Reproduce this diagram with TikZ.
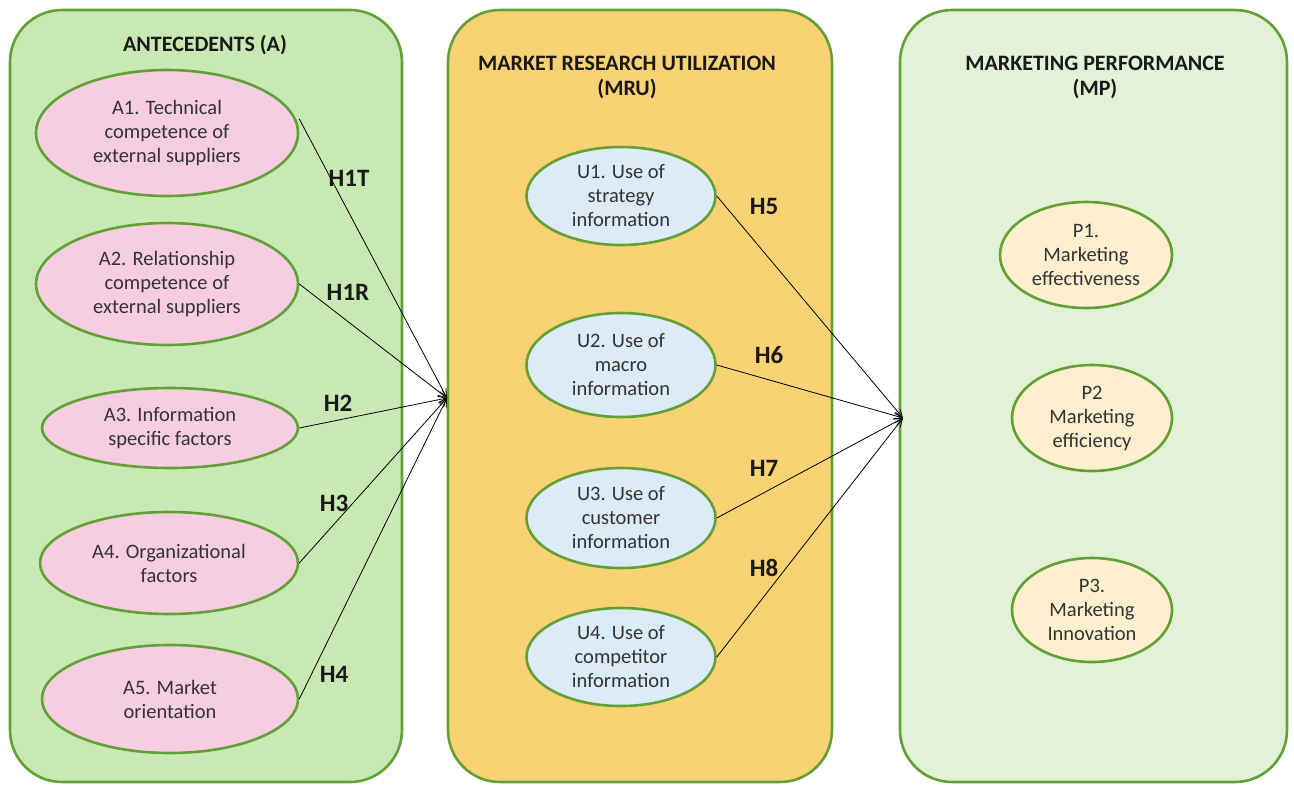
\documentclass[tikz,border=0pt]{standalone}
\usepackage{fontspec}
\setmainfont{Carlito}
\usetikzlibrary{shapes.geometric,arrows.meta}
\definecolor{bordergreen}{HTML}{62A035}
\definecolor{panelA}{HTML}{C9E9B4}
\definecolor{panelM}{HTML}{F9D273}
\definecolor{panelP}{HTML}{E2F2D7}
\definecolor{pinkfill}{HTML}{F7CDE2}
\definecolor{bluefill}{HTML}{DCEBF8}
\definecolor{yellowfill}{HTML}{FEF0CF}
\definecolor{txt}{HTML}{333333}
\tikzset{
  panel/.style={draw=bordergreen, line width=2.6pt, rounded corners=52pt},
  oval/.style={ellipse, draw=bordergreen, line width=2.6pt, align=center, text=txt,
     font=\fontsize{20.5}{24}\selectfont, inner sep=0pt},
  title/.style={font=\fontsize{22}{25}\selectfont\bfseries, align=center, text=black!90},
  hlabel/.style={font=\fontsize{25}{26}\selectfont\bfseries, text=black!90},
  link/.style={line width=0.8pt, -{Straight Barb[length=8pt,width=7pt]}}
}
\begin{document}
\begin{tikzpicture}[x=1pt,y=-1pt]
\useasboundingbox (0,0) rectangle (1294,785);
\fill[white] (0,0) rectangle (1294,785);
% panels
\draw[panel, fill=panelA] (10,10) rectangle (402,782);
\draw[panel, fill=panelM] (448,10) rectangle (832,782);
\draw[panel, fill=panelP] (900,10) rectangle (1287,782);
% titles
\node[title] (tA) at (205,45) {ANTECEDENTS (A)};
\node[title] (tM) at (627,77) {MARKET RESEARCH UTILIZATION\\(MRU)};
\node[title] (tP) at (1095,77) {MARKETING PERFORMANCE\\(MP)};
% left ovals
\node[oval, fill=pinkfill, minimum width=262pt, minimum height=126pt] (A1) at (167,133) {A1. Technical\\competence of\\external suppliers};
\node[oval, fill=pinkfill, minimum width=262pt, minimum height=122pt] (A2) at (167,284) {A2. Relationship\\competence of\\external suppliers};
\node[oval, fill=pinkfill, minimum width=256pt, minimum height=80pt] (A3) at (170,428) {A3. Information\\specific factors};
\node[oval, fill=pinkfill, minimum width=258pt, minimum height=102pt] (A4) at (169,563) {A4. Organizational\\factors};
\node[oval, fill=pinkfill, minimum width=256pt, minimum height=108pt] (A5) at (170,699) {A5. Market\\orientation};
% middle ovals
\node[oval, fill=bluefill, minimum width=189pt, minimum height=98pt] (U1) at (621,196) {U1. Use of\\strategy\\information};
\node[oval, fill=bluefill, minimum width=189pt, minimum height=104pt] (U2) at (621,365) {U2. Use of\\macro\\information};
\node[oval, fill=bluefill, minimum width=189pt, minimum height=100pt] (U3) at (621,518) {U3. Use of\\customer\\information};
\node[oval, fill=bluefill, minimum width=189pt, minimum height=98pt] (U4) at (621,657) {U4. Use of\\competitor\\information};
% right ovals
\node[oval, fill=yellowfill, minimum width=172pt, minimum height=106pt] (P1) at (1086,255) {P1.\\Marketing\\effectiveness};
\node[oval, fill=yellowfill, minimum width=160pt, minimum height=106pt] (P2) at (1092,418) {P2\\Marketing\\efficiency};
\node[oval, fill=yellowfill, minimum width=160pt, minimum height=104pt] (P3) at (1092,610) {P3.\\Marketing\\Innovation};
% targets
\coordinate (tgtM) at (447,398);
\coordinate (tgtP) at (903,418);
% arrows
\draw[link] (A1.east) ++(0,-14) -- (tgtM);
\draw[link] (A2.east) -- (tgtM);
\draw[link] (A3.east) -- (tgtM);
\draw[link] (A4.east) -- (tgtM);
\draw[link] (A5.east) -- (tgtM);
\draw[link] (U1.east) -- (tgtP);
\draw[link] (U2.east) -- (tgtP);
\draw[link] (U3.east) -- (tgtP);
\draw[link] (U4.east) -- (tgtP);
% labels
\node[hlabel] (H1T) at (349,178) {H1T};
\node[hlabel] (H1R) at (348,292) {H1R};
\node[hlabel] (H2) at (338,403) {H2};
\node[hlabel] (H3) at (334,503) {H3};
\node[hlabel] (H4) at (334,674) {H4};
\node[hlabel] (H5) at (764,206) {H5};
\node[hlabel] (H6) at (769,355) {H6};
\node[hlabel] (H7) at (764,468) {H7};
\node[hlabel] (H8) at (764,568) {H8};
\end{tikzpicture}
\end{document}
